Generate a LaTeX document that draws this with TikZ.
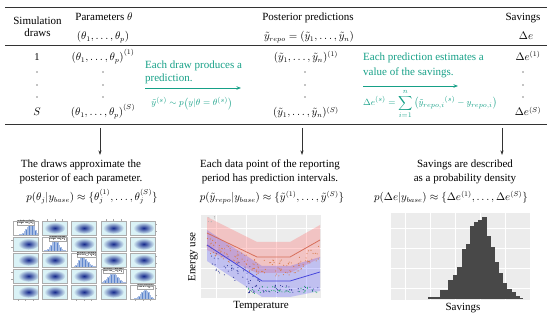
\documentclass[tikz,border=0pt]{standalone}
\usepackage{fontspec}
\setmainfont{Liberation Serif}
\setsansfont{Liberation Sans}
\usetikzlibrary{arrows.meta}
\definecolor{tealc}{RGB}{22,160,135}
\definecolor{redline}{RGB}{215,110,90}
\definecolor{blueline}{RGB}{70,70,220}
\definecolor{histbar}{RGB}{72,72,72}
\definecolor{panelgray}{RGB}{236,236,236}
\definecolor{pairbar}{RGB}{95,135,205}
\definecolor{blobin}{RGB}{20,40,140}
\definecolor{blobout}{RGB}{218,242,246}
\definecolor{ptorange}{RGB}{215,120,70}
\definecolor{ptblue}{RGB}{40,50,150}
\definecolor{ptgreen}{RGB}{40,170,110}
\begin{document}
\begin{tikzpicture}[x=1pt,y=-1pt,
  txt/.style={font=\fontsize{11}{12}\selectfont, inner sep=0pt, align=center, anchor=base},
  ltxt/.style={font=\fontsize{11}{13.5}\selectfont, inner sep=0pt, align=center, anchor=base},
  mth/.style={font=\fontsize{10.5}{13}\selectfont, inner sep=0pt, anchor=base},
  gtxt/.style={font=\fontsize{11}{13.3}\selectfont, text=tealc, inner sep=0pt, align=left, anchor=base west},
  gtxtb/.style={font=\fontsize{11}{15}\selectfont, text=tealc, inner sep=0pt, align=left, anchor=base west},
  gmth/.style={font=\fontsize{9.5}{11}\selectfont, text=tealc, inner sep=0pt, anchor=base},
  plab/.style={font=\fontsize{4.5}{5}\sffamily, fill=white, draw=gray!70, line width=0.2pt, inner sep=0.4pt, anchor=north},
  rulethick/.style={line width=0.9pt, draw=black!80},
  rulethin/.style={line width=0.7pt, draw=black!80},
  downarr/.style={-{Stealth[length=4.5pt,width=3pt]}, line width=0.5pt, draw=black!80},
  garr/.style={-{Stealth[length=4.5pt,width=3.5pt]}, line width=0.8pt, draw=tealc},
  framep/.style={draw=gray!65, line width=0.3pt},
  tick/.style={draw=gray!70, line width=0.3pt},
 ]
\useasboundingbox (0,0) rectangle (550,320);

% ---------- rules ----------
\draw[rulethick] (5,7) -- (547,7);
\draw[rulethin] (5,45) -- (547,45);
\draw[rulethick] (5,124) -- (547,124);

% ---------- header ----------
\node[txt] (hsim) at (37.5,36.5) {Simulation\\draws};
\node[txt] (hpar) at (104,21) {Parameters $\theta$};
\node[mth] (hparv) at (103,39.5) {$\big(\theta_1,\ldots,\theta_p\big)$};
\node[txt] (hpost) at (308,21) {Posterior predictions};
\node[mth] (hpostv) at (309,39.5) {$\tilde{y}_{repo}=(\tilde{y}_1,\ldots,\tilde{y}_n)$};
\node[txt] (hsav) at (523,21) {Savings};
\node[mth] (hsavv) at (526,39.5) {$\Delta e$};

% ---------- rows ----------
\node[mth] (r1a) at (37,60.5) {1};
\node[mth] (r1b) at (103,60.5) {$\big(\theta_1,\ldots,\theta_p\big)^{(1)}$};
\node[mth] (r1c) at (306,60.5) {$(\tilde{y}_1,\ldots,\tilde{y}_n)^{(1)}$};
\node[mth] (r1d) at (528,60.5) {$\Delta e^{(1)}$};
\foreach \yy in {72,85,97}{
  \foreach \xx in {37,103,305,523}{
    \fill (\xx,\yy) circle (0.65);
  }
}
\node[mth] (rsa) at (37,116) {$S$};
\node[mth] (rsb) at (103,116) {$\big(\theta_1,\ldots,\theta_p\big)^{(S)}$};
\node[mth] (rsc) at (306,116) {$(\tilde{y}_1,\ldots,\tilde{y}_n)^{(S)}$};
\node[mth] (rsd) at (528,116) {$\Delta e^{(S)}$};

% ---------- green annotations ----------
\node[gtxt] (g1) at (145,81.5) {Each draw produces a\\prediction.};
\coordinate (ga1s) at (145,88);
\coordinate (ga1e) at (241,88);
\draw[garr] (ga1s) -- (ga1e);
\node[gmth] (gf1) at (192,106) {$\tilde{y}^{(s)}\sim p\big(y|\theta=\theta^{(s)}\big)$};

\node[gtxtb] (g2) at (363,75.5) {Each prediction estimates a\\value of the savings.};
\coordinate (ga2s) at (363,86);
\coordinate (ga2e) at (458,86);
\draw[garr] (ga2s) -- (ga2e);
\node[gmth, anchor=west] (gf2) at (363,104) {$\displaystyle \Delta e^{(s)}=\sum_{i=1}^{n}\big(\tilde{y}_{repo,i}{}^{(s)}-y_{repo,i}\big)$};

% ---------- down arrows ----------
\coordinate (d1s) at (100,128); \coordinate (d1e) at (100,155);
\coordinate (d2s) at (302,128); \coordinate (d2e) at (302,155);
\coordinate (d3s) at (502,128); \coordinate (d3e) at (502,155);
\draw[downarr] (d1s) -- (d1e);
\draw[downarr] (d2s) -- (d2e);
\draw[downarr] (d3s) -- (d3e);

% ---------- lower texts ----------
\node[ltxt] (l1) at (81,181.5) {The draws approximate the\\posterior of each parameter.};
\node[mth] (lf1) at (92,200.5) {$p\big(\theta_j|y_{base}\big)\approx\big\{\theta_j^{(1)},\ldots,\theta_j^{(S)}\big\}$};
\node[ltxt] (l2) at (270,181.5) {Each data point of the reporting\\period has prediction intervals.};
\node[mth] (lf2) at (272,200.5) {$p\big(\tilde{y}_{repo}|y_{base}\big)\approx\big\{\tilde{y}^{(1)},\ldots,\tilde{y}^{(S)}\big\}$};
\node[ltxt] (l3) at (465,181.5) {Savings are described\\as a probability density};
\node[mth] (lf3) at (451,200.5) {$p\big(\Delta e|y_{base}\big)\approx\big\{\Delta e^{(1)},\ldots,\Delta e^{(S)}\big\}$};

% ---------- pair plot ----------
\foreach \i in {0,...,4}{
  \foreach \j in {0,...,4}{
    \ifnum\i=\j\relax\else
      \pgfmathsetmacro\L{13+29.3*\i}
      \pgfmathsetmacro\T{221+16*\j}
      \pgfmathsetmacro\dx{\i==0 ? 3 : (\i==4 ? 1 : 0)}
      \fill[blobout] (\L,\T) rectangle ++(25,14);
      \begin{scope}
        \clip (\L,\T) rectangle ++(25,14);
        \shade[inner color=blobin, outer color=blobout] (\L+12.5+\dx,\T+7) ellipse (10.5 and 5.8);
      \end{scope}
    \fi
  }
}
\foreach \i/\mm/\dl/\dr/\hh/\lab/\lo in {0/19/5/2.5/11/alpha[1]/12.5, 1/12.5/4/4/10/alpha[2]/15, 2/10/3/5/10/beta\_h[1]/15, 3/12/5/5/9/beta\_h[2]/12, 4/15/4.5/3.5/9/savings/15}{
  \pgfmathsetmacro\L{13+29.3*\i}
  \pgfmathsetmacro\T{221+16*\i}
  \fill[white] (\L,\T) rectangle ++(25,14);
  \foreach \b in {0,...,15}{
    \pgfmathsetmacro\bx{\L+0.5+\b*1.5}
    \pgfmathsetmacro\xc{0.5+\b*1.5+0.75}
    \pgfmathsetmacro\zz{(\xc-\mm)/((\xc<\mm) ? \dl : \dr)}
    \pgfmathsetmacro\bh{\hh*exp(-0.5*\zz*\zz)}
    \fill[pairbar, draw=pairbar!55!white, line width=0.1pt] (\bx,\T+14) rectangle ++(1.5,-\bh);
  }
  \node[plab] (lab\i) at (\L+\lo,\T-1) {\lab};
}
\foreach \i in {0,...,4}{
  \foreach \j in {0,...,4}{
    \pgfmathsetmacro\L{13+29.3*\i}
    \pgfmathsetmacro\T{221+16*\j}
    \draw[framep] (\L,\T) rectangle ++(25,14);
  }
}
% axis ticks
\foreach \c in {1,3}{ \foreach \t in {0.2,0.5,0.8}{ \draw[tick] (13+29.3*\c+25*\t,221) -- ++(0,-2); } }
\foreach \c in {0,2,4}{ \foreach \t in {0.2,0.5,0.8}{ \draw[tick] (13+29.3*\c+25*\t,299) -- ++(0,2); } }
\foreach \r in {0,2,4}{ \foreach \t in {0.25,0.75}{ \draw[tick] (155.2,221+16*\r+14*\t) -- ++(2,0); } }
\foreach \r in {1,3}{ \foreach \t in {0.25,0.75}{ \draw[tick] (13,221+16*\r+14*\t) -- ++(-2,0); } }

% ---------- prediction plot ----------
\fill[panelgray] (201,215) rectangle (321,298);
\foreach \gx in {216,246,276,306}{ \draw[white, line width=0.4pt] (\gx,215) -- (\gx,298); }
\foreach \gy in {228,248,268,288}{ \draw[white, line width=0.4pt] (201,\gy) -- (321,\gy); }
\begin{scope}
  \clip (201,215) rectangle (321,298);
  \fill[red!65, opacity=0.28] (207,217) -- (257,242) -- (290,242) -- (320,225) -- (320,258) -- (290,273) -- (257,273) -- (207,250) -- cycle;
  \fill[blue!75, opacity=0.25] (207,230) -- (262,266) -- (290,266) -- (320,257) -- (320,291) -- (290,297) -- (262,297) -- (207,261) -- cycle;
  \pgfmathsetseed{7}
  \foreach \k in {1,...,150}{
    \pgfmathsetmacro\px{207+113*rnd}
    \pgfmathsetmacro\py{((\px<257) ? (233+(\px-207)*0.48) : ((\px<290) ? 257 : (257-(\px-290)*0.57)))+11+8*rand}
    \fill[ptorange] (\px,\py) circle (0.55);
  }
  \foreach \k in {1,...,45}{
    \pgfmathsetmacro\px{209+55*rnd}
    \pgfmathsetmacro\py{233+(\px-207)*0.48+24+11*rand}
    \fill[ptblue] (\px,\py) circle (0.55);
  }
  \foreach \k in {1,...,45}{
    \pgfmathsetmacro\px{242+78*rnd}
    \pgfmathsetmacro\py{289+4*rand}
    \fill[ptblue] (\px,\py) circle (0.55);
  }
  \foreach \k in {1,...,40}{
    \pgfmathsetmacro\px{248+72*rnd}
    \pgfmathsetmacro\py{290+4*rand}
    \fill[ptgreen] (\px,\py) circle (0.55);
  }
  \foreach \k in {1,...,6}{
    \pgfmathsetmacro\px{207+8*rnd}
    \pgfmathsetmacro\py{219+3*rand}
    \fill[gray!60] (\px,\py) circle (0.55);
  }
  \draw[redline, line width=0.8pt] (207,233) -- (257,257) -- (290,257) -- (320,240);
  \draw[blueline, line width=0.8pt] (207,245) -- (262,281) -- (290,281) -- (320,272);
\end{scope}
\node[font=\fontsize{11}{12}\selectfont, inner sep=0pt, rotate=90] (ylab) at (193,257) {Energy use};
\node[font=\fontsize{11}{12}\selectfont, inner sep=0pt] (xlab) at (261,306) {Temperature};

% ---------- savings histogram ----------
\fill[panelgray] (391,213) rectangle (530,300);
\foreach \gx in {405,430,455,480,505}{ \draw[white, line width=0.4pt] (\gx,213) -- (\gx,300); }
\foreach \gy in {228,248,268,288}{ \draw[white, line width=0.4pt] (391,\gy) -- (530,\gy); }
\foreach \xa/\xb/\yt in {428.3/431.7/297.5, 431.7/440/296.7, 440/448.3/290.5, 448.3/452.7/280, 452.7/457.3/275.5, 457.3/461.7/266.7, 461.7/465.7/249.5, 465.7/470/244.5, 470/474/226.5, 474/478.3/222.5, 478.3/482.3/220.5, 482.3/486.7/217, 486.7/490.7/236, 490.7/495/247, 495/499.3/262, 499.3/503.3/273, 503.3/507.3/283, 507.3/511.7/289.5, 511.7/515.7/292.5, 515.7/520/296, 520/523.3/297.7}{
  \fill[histbar] (\xa,299) rectangle (\xb,\yt);
}
\node[font=\fontsize{11}{12}\selectfont, inner sep=0pt] (hxlab) at (463,308) {Savings};
\end{tikzpicture}
\end{document}
